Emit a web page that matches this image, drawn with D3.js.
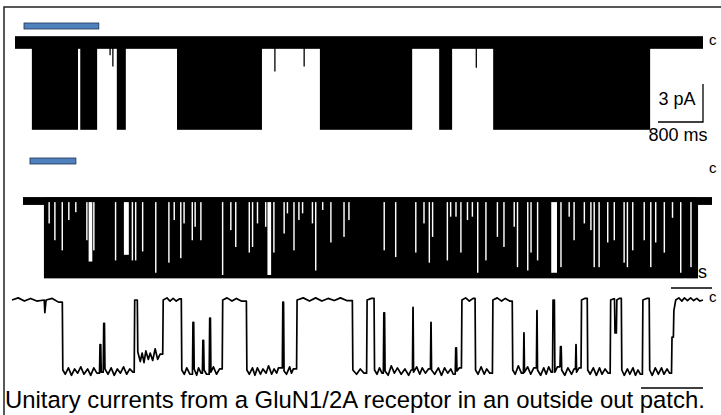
<!DOCTYPE html>
<html>
<head>
<meta charset="utf-8">
<script src="https://cdn.jsdelivr.net/npm/d3@7"></script>
<style>
  body { margin: 0; background: #fff; }
  svg { display: block; }
  text { font-family: "Liberation Sans", Arial, sans-serif; fill: #000; }
</style>
</head>
<body>
<svg id="chart" width="721" height="415"></svg>
<script>
// ---- data ----
const openLevel = -6.6;          // pA, unitary amplitude

// trace 1: long record, seconds
const trace1Duration = 12.23;
const trace1Bursts = [[0.30, 1.12], [1.16, 1.46], [1.81, 1.97], [2.88, 4.39],
                      [5.42, 7.06], [7.54, 7.77], [8.50, 11.29]];
const trace1Flickers = [[1.69, -1.0], [1.74, -1.9], [4.62, -2.3], [5.14, -1.9], [8.20, -2.0]];
const trace1Mark = [0.16, 1.49];

// trace 2: expanded, ms  [time, deepest level reached, dwell]
const trace2Duration = 1680;
const trace2Burst = [51, 1646];
const trace2Gaps = [
  [62, -2.0, 3.5], [76, -3.5, 3.5], [94, -4.4, 3.5], [110, -1.7, 3.5], [127, -1.0, 3.5],
  [154, -3.5, 3.5], [160, -5.4, 9], [171, -4.4, 3.5], [224, -5.3, 3.5], [246, -4.8, 12],
  [265, -5.3, 3.5], [273, -5.3, 3.5], [290, -4.5, 3.5], [322, -6.4, 3.5], [354, -5.5, 3.5],
  [367, -1.7, 3.5], [383, -5.1, 3.5], [391, -2.0, 3.5], [411, -3.5, 3.5], [418, -2.3, 3.5],
  [432, -3.5, 3.5], [485, -6.6, 3.5], [505, -2.6, 3.5], [517, -4.1, 3.5], [550, -4.6, 3.5],
  [558, -4.1, 3.5], [570, -2.0, 3.5], [590, -2.3, 3.5], [596, -6.6, 9], [610, -4.6, 3.5],
  [635, -2.9, 3.5], [643, -1.1, 3.5], [659, -4.4, 3.5], [671, -1.7, 3.5], [680, -1.1, 3.5],
  [704, -2.0, 3.5], [712, -6.2, 3.5], [729, -0.8, 3.5], [749, -3.7, 3.5], [781, -3.2, 3.5],
  [793, -1.7, 3.5], [879, -4.4, 3.5], [907, -5.0, 3.5], [956, -4.6, 3.5], [976, -2.0, 3.5],
  [989, -5.5, 3.5], [997, -3.2, 3.5], [1033, -5.3, 3.5], [1041, -1.4, 3.5], [1054, -1.4, 3.5],
  [1066, -4.6, 3.5], [1082, -1.7, 3.5], [1094, -1.4, 3.5], [1107, -6.4, 3.5], [1127, -5.3, 3.5],
  [1155, -3.2, 3.5], [1171, -4.1, 3.5], [1196, -2.3, 3.5], [1204, -5.9, 3.5], [1229, -6.2, 3.5],
  [1237, -4.6, 3.5], [1253, -5.3, 3.5], [1288, -6.4, 14], [1310, -5.9, 3.5], [1330, -1.4, 3.5],
  [1342, -3.5, 3.5], [1367, -2.0, 3.5], [1383, -2.6, 3.5], [1391, -5.9, 3.5], [1403, -5.9, 3.5],
  [1424, -3.7, 3.5], [1440, -3.5, 3.5], [1464, -5.5, 3.5], [1472, -5.9, 3.5], [1485, -4.4, 3.5],
  [1513, -3.5, 3.5], [1529, -5.9, 3.5], [1541, -3.7, 3.5], [1562, -4.6, 3.5], [1582, -1.5, 3.5],
  [1602, -6.4, 3.5], [1627, -5.9, 3.5]
];
const trace2Mark = [17, 129];

// trace 3: further expanded, ms  [time, current pA]
const trace3Duration = 111.5;
const trace3Points = [
  [0, 0], [1, 0.2], [2, -0.1], [3, 0.15], [4, -0.1], [5.2, 0], [5.3, -1.2], [5.5, 0], [6.5, 0.15], [7.5, -0.2],
  [8.2, -6.6], [8.6, -7.0], [9.1, -6.4], [9.6, -7.1], [10.1, -6.5], [10.6, -6.9], [11.1, -6.3], [11.6, -7.0],
  [12.2, -6.5], [12.7, -7.1], [13.2, -6.4], [13.7, -6.9],
  [14.2, -4.2], [14.4, -6.8], [14.8, -2.2], [15.0, -6.5], [15.5, -7.0], [16, -6.4], [16.5, -7.1], [17, -6.5],
  [17.5, -6.9], [18, -6.3], [18.5, -7.0], [19, -6.5], [19.5, -6.8],
  [19.8, 0], [20.3, -4.9], [20.7, -5.8], [21.0, -5.0], [21.3, -5.9], [21.6, -4.8], [22.0, -5.6], [22.3, -5.0],
  [22.7, -5.7], [23.1, -4.6], [23.5, -5.6], [23.9, -5.1],
  [24.4, 0], [25, 0.2], [25.5, -0.1], [26, 0.15], [26.5, -0.1], [27, 0.1],
  [27.4, -6.6], [27.8, -7.0], [28.2, -6.4], [28.7, -7.0], [29.2, -2.1], [29.4, -6.5], [29.8, -7.1], [30.1, -6.4],
  [30.5, -6.9], [30.8, -3.8], [31.0, -6.6], [31.4, -7.0], [31.9, -1.7], [32.1, -6.8], [32.5, -6.3], [33, -7.0], [33.5, -6.5],
  [34.0, 0], [34.7, 0.2], [35.5, -0.1], [36.2, 0.15], [37, -0.1],
  [37.9, -6.6], [38.3, -7.0], [38.8, -6.4], [39.2, -7.1], [39.6, -6.4], [40.1, -7.0], [40.5, -6.5], [41.0, -6.9],
  [41.4, -6.2], [41.9, -7.0], [42.3, -6.5], [42.7, -6.9], [43.0, -6.4],
  [43.7, -0.2], [43.9, -6.7], [44.3, -7.0], [44.8, -6.3], [45.1, -6.9], [45.4, -6.5],
  [46.0, 0], [47, 0.2], [48, -0.1], [49, 0.2], [50, -0.1], [51, 0.15], [52, -0.05], [53, 0.2], [54, -0.05],
  [55.0, -6.6], [55.6, -7.0], [56.2, -6.5], [56.8, -6.9],
  [57.3, 0], [58, 0.15],
  [58.5, -6.6], [58.9, -7.0], [59.3, -6.4], [59.7, -6.9], [60.0, -1.2], [60.2, -6.7], [60.7, -7.1], [61.2, -6.2],
  [61.7, -6.9], [62.2, -6.4], [62.8, -7.0], [63.4, -6.5], [64.0, -7.1], [64.4, -6.6],
  [64.7, -0.7], [64.8, -6.8], [65.3, -6.3], [65.8, -7.0], [66.2, -6.4], [66.7, -6.9], [67.2, -6.5],
  [67.6, -2.1], [67.7, -6.6], [68.2, -7.0], [68.8, -6.4], [69.3, -7.1], [69.8, -6.4], [70.3, -6.9], [70.8, -6.5], [71.2, -7.0],
  [71.6, -4.5], [71.8, -6.7], [72.2, -6.4],
  [72.6, 0], [73.2, 0.2], [73.8, -0.1], [74.4, 0.15],
  [74.8, -6.6], [75.2, -7.0], [75.7, -6.3], [76.2, -7.0], [76.6, -6.5], [77.1, -6.9],
  [77.6, 0], [78.3, 0.2], [79, -0.1], [79.6, 0.15], [80.3, -0.1],
  [80.8, -6.6], [81.2, -7.0], [81.7, -6.2], [82.2, -6.9],
  [82.6, -3.1], [82.7, -6.8], [83.2, -6.3], [83.7, -7.0], [84.2, -6.4],
  [84.7, -1.0], [84.8, -6.6], [85.3, -7.1], [85.8, -6.4], [86.2, -7.0], [86.6, -6.3], [87.0, -6.8],
  [87.3, 0], [87.6, -6.8], [88.0, -6.3], [88.5, -4.4], [88.7, -6.6], [89.2, -7.1], [89.7, -6.4], [90.3, -7.0], [90.7, -6.5],
  [91.0, -4.2], [91.1, -6.8], [91.5, -6.4],
  [91.9, 0], [92.4, 0.15],
  [92.9, -6.6], [93.3, -7.0], [93.8, -6.4], [94.3, -7.1], [94.8, -6.4], [95.2, -7.0], [95.7, -6.5], [96.2, -6.9],
  [96.6, 0], [97.0, 0.1], [97.3, -3.1], [97.6, 0], [98.0, 0.15],
  [98.4, -6.6], [98.8, -7.1], [99.3, -6.5], [99.7, -7.0], [100.2, -6.4], [100.6, -7.1], [101, -6.6], [101.4, -7.0],
  [101.8, 0], [102.4, 0.15],
  [102.9, -6.6], [103.3, -7.1], [103.8, -6.4], [104.3, -7.0], [104.8, -6.4], [105.2, -7.0], [105.7, -6.5], [106.1, -6.9],
  [106.5, -3.5], [106.8, -1.0], [107.1, 0], [107.6, 0.2], [108.1, -0.1], [108.5, 0.2], [109, -0.05], [109.5, 0.2],
  [110, -0.05], [110.5, 0.15], [111, -0.1], [111.5, 0]
];

const caption = "Unitary currents from a GluN1/2A receptor in an outside out patch.";

// ---- drawing ----
const svg = d3.select("#chart");
const markBlue = "#4f81bd";

svg.append("rect")
  .attr("x", 4).attr("y", 7).attr("width", 740).attr("height", 430)
  .attr("fill", "none").attr("stroke", "#222").attr("stroke-width", 1.5);

// trace 1
const x1 = d3.scaleLinear().domain([0, trace1Duration]).range([15, 703]);
const y1 = d3.scaleLinear().domain([0, openLevel]).range([42.5, 126]);

const g1 = svg.append("g");
g1.append("rect")
  .attr("x", x1(0)).attr("width", x1(trace1Duration) - x1(0))
  .attr("y", y1(0.5)).attr("height", y1(-0.5) - y1(0.5))
  .attr("fill", "#000");
g1.selectAll("rect.burst")
  .data(trace1Bursts)
  .join("rect")
  .attr("class", "burst")
  .attr("x", d => x1(d[0]))
  .attr("width", d => x1(d[1]) - x1(d[0]))
  .attr("y", y1(0))
  .attr("height", y1(openLevel - 0.3) - y1(0))
  .attr("fill", "#000");
g1.selectAll("line.flick")
  .data(trace1Flickers)
  .join("line")
  .attr("class", "flick")
  .attr("x1", d => x1(d[0])).attr("x2", d => x1(d[0]))
  .attr("y1", y1(0)).attr("y2", d => y1(d[1]))
  .attr("stroke", "#000").attr("stroke-width", 1.3);

svg.append("rect")
  .attr("x", x1(trace1Mark[0])).attr("width", x1(trace1Mark[1]) - x1(trace1Mark[0]))
  .attr("y", 23).attr("height", 6)
  .attr("fill", markBlue).attr("stroke", "#1f3050").attr("stroke-width", 0.8);

svg.append("text").attr("x", 709).attr("y", 45).attr("font-size", 15).text("c");

// scale bars trace 1
const sb1x0 = x1(trace1Duration - 0.8), sb1x1 = x1(trace1Duration), sbY = 122;
const pxPerPA = y1(-1) - y1(0);
svg.append("path")
  .attr("d", `M${sb1x0},${sbY}H${sb1x1}V${sbY - 3 * pxPerPA}`)
  .attr("fill", "none").attr("stroke", "#000").attr("stroke-width", 1.3);
svg.append("text").attr("x", 677).attr("y", 105).attr("font-size", 18)
  .attr("text-anchor", "middle").text("3 pA");
svg.append("text").attr("x", 678).attr("y", 141).attr("font-size", 18)
  .attr("text-anchor", "middle").text("800 ms");

// trace 2
const x2 = d3.scaleLinear().domain([0, trace2Duration]).range([23, 712]);
const y2 = d3.scaleLinear().domain([0, openLevel]).range([201, 275]);

svg.append("text").attr("x", 707).attr("y", 278).attr("font-size", 18)
  .attr("text-anchor", "end").text("100 ms");

const g2 = svg.append("g");
g2.append("rect")
  .attr("x", x2(0)).attr("width", x2(trace2Duration) - x2(0))
  .attr("y", y2(0.35)).attr("height", y2(-0.35) - y2(0.35))
  .attr("fill", "#000");
g2.append("rect")
  .attr("x", x2(trace2Burst[0])).attr("width", x2(trace2Burst[1]) - x2(trace2Burst[0]))
  .attr("y", y2(0.3)).attr("height", y2(openLevel - 0.3) - y2(0.3))
  .attr("fill", "#000");
g2.selectAll("rect.gap")
  .data(trace2Gaps)
  .join("rect")
  .attr("class", "gap")
  .attr("x", d => x2(d[0]))
  .attr("width", d => x2(d[0] + d[2]) - x2(d[0]))
  .attr("y", y2(-0.1))
  .attr("height", d => y2(d[1]) - y2(-0.1))
  .attr("fill", "#fff");

svg.append("rect")
  .attr("x", x2(trace2Mark[0])).attr("width", x2(trace2Mark[1]) - x2(trace2Mark[0]))
  .attr("y", 158).attr("height", 6)
  .attr("fill", markBlue).attr("stroke", "#1f3050").attr("stroke-width", 0.8);

svg.append("text").attr("x", 709).attr("y", 173).attr("font-size", 15).text("c");
svg.append("line")
  .attr("x1", x2(trace2Duration - 100)).attr("x2", x2(trace2Duration))
  .attr("y1", 288).attr("y2", 288)
  .attr("stroke", "#000").attr("stroke-width", 1.3);

// trace 3: large jumps drawn as sharp transitions, small ones as noise
const x3 = d3.scaleLinear().domain([0, trace3Duration]).range([12, 703]);
const y3 = d3.scaleLinear().domain([0, openLevel]).range([300, 370]);

const trace3Path = [];
trace3Points.forEach((d, i) => {
  const prev = trace3Points[i - 1];
  if (prev && Math.abs(d[1] - prev[1]) > 1.5) trace3Path.push([d[0] - 0.08, prev[1]]);
  trace3Path.push(d);
});

svg.append("path")
  .datum(trace3Path)
  .attr("d", d3.line().x(d => x3(d[0])).y(d => y3(d[1])))
  .attr("fill", "none").attr("stroke", "#000").attr("stroke-width", 1.7)
  .attr("stroke-linejoin", "round");

svg.append("text").attr("x", 709).attr("y", 302).attr("font-size", 15).text("c");
svg.append("line")
  .attr("x1", x3(trace3Duration - 10)).attr("x2", x3(trace3Duration))
  .attr("y1", 388).attr("y2", 388)
  .attr("stroke", "#000").attr("stroke-width", 1.3);

svg.append("text").attr("x", 5).attr("y", 408).attr("font-size", 23.9).text(caption);
</script>
</body>
</html>
